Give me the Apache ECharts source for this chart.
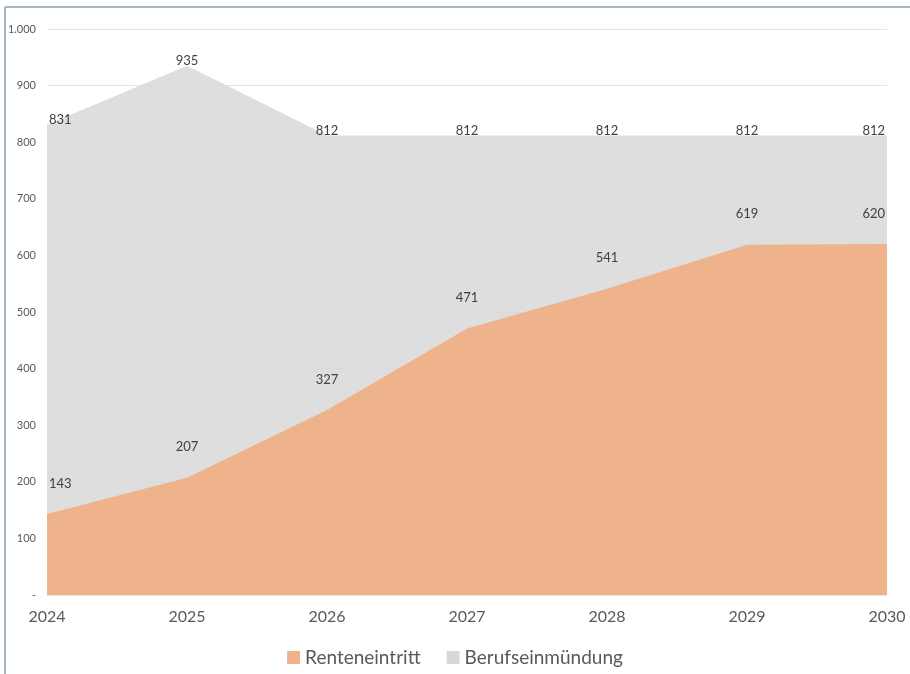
<!DOCTYPE html>
<html>
<head>
<meta charset="utf-8">
<script src="https://cdn.jsdelivr.net/npm/echarts@6/dist/echarts.min.js"></script>
<style>
  html, body { margin: 0; padding: 0; background: #fff; }
  #chart { width: 910px; height: 674px; }
</style>
</head>
<body>
<div id="chart"></div>
<script>
const years = ['2024', '2025', '2026', '2027', '2028', '2029', '2030']
const renteneintritt = [143, 207, 327, 471, 541, 619, 620]
const berufseinmuendung = [831, 935, 812, 812, 812, 812, 812]

// first and last labels are pushed inwards like in the original
const withEdgeLabels = (values) => values.map((v, i) => {
  if (i === 0) return { value: v, label: { align: 'left', offset: [2, 0] } }
  if (i === values.length - 1) return { value: v, label: { align: 'right', offset: [-2, 0] } }
  return v
})

const germanNumber = (v) => v === 0 ? '-' : String(v).replace(/\B(?=(\d{3})+(?!\d))/g, '.')

const font = 'Lato, "Open Sans", sans-serif'
const chart = echarts.init(document.getElementById('chart'))

chart.setOption({
  animation: false,
  textStyle: { fontFamily: font },
  graphic: [
    { type: 'line', shape: { x1: 5, y1: 7, x2: 910, y2: 7 }, style: { stroke: '#a7b6c3', lineWidth: 2 } },
    { type: 'line', shape: { x1: 5, y1: 7, x2: 5, y2: 674 }, style: { stroke: '#a7b6c3', lineWidth: 2 } }
  ],
  grid: { left: 47, right: 23, top: 29, bottom: 79 },
  legend: {
    bottom: 2,
    left: 'center',
    itemWidth: 13,
    itemHeight: 13,
    itemGap: 26,
    icon: 'rect',
    data: ['Renteneintritt', 'Berufseinmündung'],
    textStyle: { fontSize: 19, color: '#595959', fontFamily: font }
  },
  xAxis: {
    type: 'category',
    data: years,
    boundaryGap: false,
    axisLine: { show: false },
    axisTick: { show: false },
    axisLabel: { fontSize: 16, color: '#595959', margin: 14, fontFamily: font }
  },
  yAxis: {
    type: 'value',
    min: 0,
    max: 1000,
    interval: 100,
    axisLine: { show: false },
    axisTick: { show: false },
    axisLabel: { fontSize: 11, color: '#595959', margin: 11, fontFamily: font, formatter: germanNumber },
    splitLine: { lineStyle: { color: '#e4e4e4', width: 1 } }
  },
  series: [
    {
      name: 'Berufseinmündung',
      type: 'line',
      data: withEdgeLabels(berufseinmuendung),
      symbol: 'circle',
      symbolSize: 0.1,
      showSymbol: true,
      lineStyle: { width: 0 },
      itemStyle: { color: '#d9d8d8' },
      areaStyle: { color: '#d9d8d8', opacity: 0.85 },
      label: { show: true, position: 'top', distance: -2, fontSize: 13, color: '#404040', fontFamily: font }
    },
    {
      name: 'Renteneintritt',
      type: 'line',
      data: withEdgeLabels(renteneintritt),
      symbol: 'circle',
      symbolSize: 0.1,
      showSymbol: true,
      lineStyle: { width: 0 },
      itemStyle: { color: '#eeb38b' },
      areaStyle: { color: '#eeb38b', opacity: 1 },
      label: { show: true, position: 'top', distance: 24, fontSize: 13, color: '#404040', fontFamily: font }
    }
  ]
})
</script>
</body>
</html>
